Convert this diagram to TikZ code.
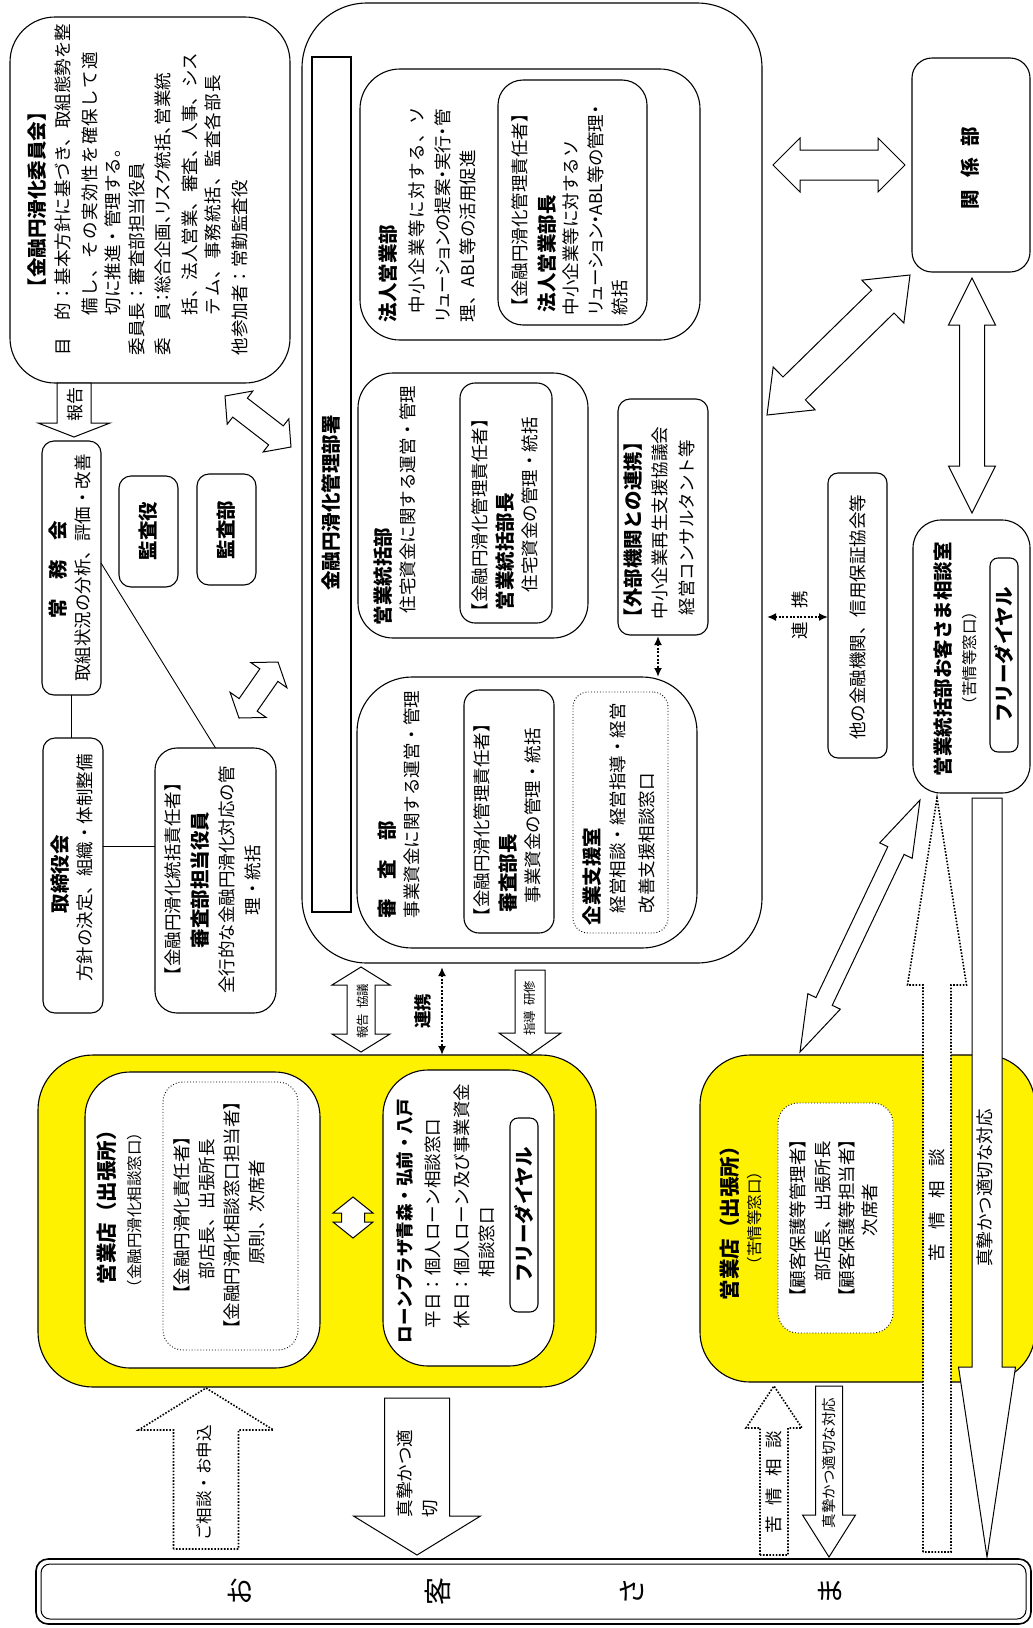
\documentclass[tikz,border=0pt]{standalone}
\usepackage{fontspec}
\setmainfont{Noto Sans CJK JP}
\usetikzlibrary{calc,arrows.meta}
\tikzset{
  bxs/.style={draw,line width=1.1pt,inner sep=0pt,outer sep=0pt},
  dotbx/.style={draw,line width=0.9pt,dotted,inner sep=0pt,outer sep=0pt},
  txt/.style={rotate=90,inner sep=0pt,outer sep=0pt,font=\fontsize{17.5}{21}\selectfont},
  bt/.style={font=\fontsize{19.5}{23}\selectfont\bfseries},
  sm/.style={font=\fontsize{15.5}{18}\selectfont},
  xs/.style={font=\fontsize{12.5}{15}\selectfont},
  barrow/.style={draw,line width=1pt,fill=white,line join=miter},
  dbarrow/.style={draw,line width=1.6pt,dash pattern=on 1.6pt off 1.6pt,fill=white},
  dotlink/.style={line width=2pt,dash pattern=on 2pt off 1.6pt,{Latex[length=9pt,width=8pt]}-{Latex[length=9pt,width=8pt]}},
  conn/.style={line width=0.9pt},
}
\newcommand{\pal}{\addfontfeature{RawFeature=+palt}}
\newcommand{\lsp}[1]{\addfontfeature{LetterSpace=#1}}
\newcommand{\bx}[6][]{\node[bxs,#1,anchor=north west,minimum width={#5-(#3)},minimum height={#6-(#4)}] (#2) at (#3,#4) {};}
\newcommand{\vtl}[5][]{\node[txt,anchor=west,#1] (#2) at (#3,#4) {#5};}
\newcommand{\vtc}[5][]{\node[txt,anchor=center,#1] (#2) at (#3,#4) {#5};}
\newcommand{\dbar}[6][]{%
  \coordinate (da) at ($(#2)!#6pt!(#3)$);
  \coordinate (db) at ($(#3)!#6pt!(#2)$);
  \draw[barrow,#1] (#2) -- ($(da)!#5pt!90:(#3)$) -- ($(da)!#4pt!90:(#3)$)
    -- ($(db)!#4pt!-90:(#2)$) -- ($(db)!#5pt!-90:(#2)$) -- (#3)
    -- ($(db)!#5pt!90:(#2)$) -- ($(db)!#4pt!90:(#2)$)
    -- ($(da)!#4pt!-90:(#3)$) -- ($(da)!#5pt!-90:(#3)$) -- cycle;}
\newcommand{\sar}[6][]{%
  \coordinate (hb) at ($(#3)!#6pt!(#2)$);
  \draw[barrow,#1] ($(#2)!#4pt!90:(#3)$) -- ($(hb)!#4pt!-90:(#2)$) -- ($(hb)!#5pt!-90:(#2)$)
    -- (#3) -- ($(hb)!#5pt!90:(#2)$) -- ($(hb)!#4pt!90:(#2)$) -- ($(#2)!#4pt!-90:(#3)$) -- cycle;}
\begin{document}
\begin{tikzpicture}[x=1pt,y=-1pt]
\useasboundingbox (0,0) rectangle (1033,1628);
% ---------------- committee
\bx[rounded corners=45pt]{iinkai}{10}{17}{290}{383}
\vtl[bt]{i1}{37}{297}{【金融円滑化委員会】}
\vtl{i2}{63}{355}{目　的：基本方針に基づき、取組態勢を整}
\vtl{i3}{90}{315}{\lsp{8}備し、その実効性を確保して適}
\vtl{i4}{113}{315}{切に推進・管理する。}
\vtl{i5}{137}{355}{委員長：審査部担当役員}
\vtl{i6}{163}{355}{\pal 委　員：総合企画、リスク統括、営業統}
\vtl{i7}{190}{315}{括、法人営業、審査、人事、シス}
\vtl{i8}{213}{315}{\lsp{6}テム、事務統括、監査各部長}
\vtl{i9}{240}{355}{他参加者：常勤監査役}
% ---------------- left column
\bx[rounded corners=12pt]{jomu}{42}{441}{101}{695}
\vtc[bt]{j1}{58}{570}{常　務　会}
\vtc{j2}{83}{568}{取組状況の分析、評価・改善}
\bx[rounded corners=12pt]{kansayaku}{119}{476}{178}{587}
\vtc[bt]{k1}{148}{531}{監査役}
\bx[rounded corners=12pt]{kansabu}{197}{474}{256}{585}
\vtc[bt]{k2}{226}{530}{監査部}
\bx[rounded corners=12pt]{tori}{43}{738}{103}{1013}
\vtc[bt]{t1}{60}{874}{取締役会}
\vtc{t2}{85}{868}{方針の決定、組織・体制整備}
\bx[rounded corners=22pt]{yakuin}{155}{748}{276}{1013}
\vtc{y1}{173}{879}{【金融円滑化統括責任者】}
\vtc[bt]{y2}{200}{880}{審査部担当役員}
\vtc{y3}{227}{880}{全行的な金融円滑化対応の管}
\vtc{y4}{253}{880}{理・統括}
\draw[conn] (jomu.south) -- (jomu.south |- tori.north);
\draw[conn] (tori.east |- 0,846) -- (yakuin.west |- 0,846);
\draw[conn] (jomu.east |- 0,563) -- (yakuin.north);
% ---------------- central
\bx[rounded corners=65pt]{kanri}{302}{3}{762}{963}
\bx{bar}{312}{57}{351}{912}
\vtc[bt]{bart}{331}{503}{金融円滑化管理部署}
\bx[rounded corners=40pt]{hojin}{360}{69}{700}{340}
\bx[rounded corners=25pt]{hojinc}{498}{80}{647}{325}
\vtl[bt]{h1}{388}{322}{法人営業部}
\vtl{h2}{417}{313}{\lsp{8}中小企業等に対する、ソ}
\vtl{h3}{443}{322}{\pal リューションの提案・実行・管}
\vtl{h4}{468}{322}{理、ABL等の活用促進}
\vtl{h5}{520}{315}{【金融円滑化管理責任者】}
\vtl[bt]{h6}{547}{312}{法人営業部長}
\vtl{h7}{571}{315}{中小企業等に対するソ}
\vtl{h8}{596}{315}{\pal リューション・ABL等の管理・}
\vtl{h9}{620}{315}{統括}
\bx[rounded corners=35pt]{eigyo}{358}{373}{588}{638}
\bx[rounded corners=15pt]{eigyoc}{460}{383}{552}{623}
\vtl[bt]{e1}{383}{625}{営業統括部}
\vtl{e2}{408}{613}{住宅資金に関する運営・管理}
\vtl{e3}{480}{620}{【金融円滑化管理責任者】}
\vtl[bt]{e4}{505}{610}{営業統括部長}
\vtl{e5}{530}{592}{住宅資金の管理・統括}
\bx[rounded corners=55pt]{shinsa}{357}{677}{697}{948}
\bx[rounded corners=15pt]{shinsac}{464}{690}{554}{933}
\bx[dotbx,rounded corners=15pt]{kigyo}{573}{692}{668}{933}
\vtl[bt]{s1}{387}{918}{審　査　部}
\vtl{s2}{412}{918}{事業資金に関する運営・管理}
\vtl{s3}{482}{925}{【金融円滑化管理責任者】}
\vtl[bt]{s4}{508}{912}{審査部長}
\vtl{s5}{533}{903}{事業資金の管理・統括}
\vtl[bt]{s6}{592}{925}{企業支援室}
\vtl{s7}{618}{913}{経営相談・経営指導・経営}
\vtl{s8}{647}{913}{改善支援相談窓口}
\bx[rounded corners=12pt]{gaibu}{618}{399}{708}{635}
\vtl[bt]{g1}{633}{627}{【外部機関との連携】}
\vtl{g2}{660}{619}{中小企業再生支援協議会}
\vtl{g3}{687}{615}{経営コンサルタント等}
\draw[dotlink] (gaibu.south -| 658,0) ++(0,1) -- (shinsa.north -| 658,0);
% ---------------- right column
\bx[rounded corners=20pt]{kankei}{912}{58}{1030}{272}
\vtc[bt]{kk}{970}{168}{関\hspace{12pt}係\hspace{12pt}部}
\bx[rounded corners=10pt]{tanokinyu}{828}{473}{887}{758}
\vtc{tk}{858}{617}{他の金融機関、信用保証協会等}
\bx[rounded corners=28pt]{sodan}{913}{520}{1030}{793}
\vtc[bt]{so1}{943}{659}{営業統括部お客さま相談室}
\vtc[sm]{so2}{970}{658}{（苦情等窓口）}
\bx[rounded corners=8pt]{free1}{990}{558}{1018}{752}
\vtc[bt]{fr1}{1004}{655}{フリーダイヤル}
\draw[dotlink] (kanri.east |- 0,617) ++(5,0) -- (tanokinyu.west |- 0,617);
\vtc{rk}{800}{615}{連\hspace{14pt}携}
% block arrows around the central unit
\coordinate (hA) at (773,165); \coordinate (hB) at (905,165);
\dbar{hA}{hB}{15}{27}{27}
\coordinate (gA) at (767,415); \coordinate (gB) at (910,275);
\dbar{gA}{gB}{16}{30}{38}
\coordinate (vA) at (972,278); \coordinate (vB) at (972,513);
\dbar{vA}{vB}{12.5}{23.5}{47}
\coordinate (c1A) at (225,396); \coordinate (c1B) at (291,447);
\dbar{c1A}{c1B}{12}{21}{19}
\coordinate (c2A) at (239,718); \coordinate (c2B) at (278,662);
\dbar{c2A}{c2B}{11}{22}{16}
\coordinate (rpA) at (74,383); \coordinate (rpB) at (74,437);
\sar{rpA}{rpB}{17}{36}{14}
\vtc[font=\fontsize{17}{20}\selectfont]{l1}{75}{404}{報告}
% ---------------- yellow box 1
\bx[fill=yellow,rounded corners=55pt]{ten1}{38}{1055}{596}{1387}
\bx[fill=white,rounded corners=45pt]{ten1a}{85}{1072}{320}{1368}
\bx[dotbx,rounded corners=20pt]{ten1d}{163}{1082}{298}{1350}
\vtc[font=\fontsize{20.5}{24}\selectfont\bfseries]{n1}{107}{1202}{営業店（出張所）}
\vtc[sm]{n2}{135}{1210}{（金融円滑化相談窓口）}
\vtc{n3}{182}{1215}{【金融円滑化責任者】}
\vtc{n4}{207}{1209}{部店長、出張所長}
\vtc{n5}{232}{1215}{【金融円滑化相談窓口担当者】}
\vtc{n6}{257}{1212}{原則、次席者}
\bx[fill=white,rounded corners=45pt]{loan}{383}{1070}{554}{1366}
\vtl[font=\fontsize{17.5}{21}\selectfont\bfseries]{p1}{405}{1343}{ローンプラザ青森・弘前・八戸}
\vtl{p2}{433}{1328}{平日：個人ローン相談窓口}
\vtl{p3}{462}{1328}{休日：個人ローン及び事業資金}
\vtl{p4}{487}{1277}{相談窓口}
\bx[rounded corners=8pt]{free2}{510}{1118}{538}{1312}
\vtc[bt]{fr2}{524}{1215}{フリーダイヤル}
\coordinate (yA) at (353,1197); \coordinate (yB) at (353,1238);
\dbar{yA}{yB}{11.5}{20}{16}
% arrows between central unit and branch
\coordinate (kA) at (361,967); \coordinate (kB) at (361,1052);
\dbar{kA}{kB}{14}{29}{18}
\vtc[xs]{l2}{363}{1011}{報告\hspace{5pt}協議}
\draw[dotlink] (kanri.south -| 442,0) ++(0,4) -- (ten1.north -| 442,0);
\vtc[font=\fontsize{17.5}{21}\selectfont\bfseries]{l3}{423}{1011}{連携}
\coordinate (sA) at (530,970); \coordinate (sB) at (530,1055);
\sar{sA}{sB}{15}{31}{22}
\vtc[xs]{l4}{530}{1008}{指導\hspace{5pt}研修}
% ---------------- yellow box 2
\bx[fill=yellow,rounded corners=50pt]{ten2}{700}{1055}{1035}{1382}
\bx[dotbx,fill=white,rounded corners=20pt]{ten2d}{778}{1103}{893}{1333}
\vtc[font=\fontsize{20.5}{24}\selectfont\bfseries]{m1}{730}{1218}{営業店（出張所）}
\vtc[sm]{m2}{755}{1218}{（苦情等窓口）}
\vtc{m3}{798}{1218}{【顧客保護等管理者】}
\vtc{m4}{823}{1211}{部店長、出張所長}
\vtc{m5}{847}{1218}{【顧客保護等担当者】}
\vtc{m6}{870}{1210}{次席者}
\coordinate (dA) at (920,800); \coordinate (dB) at (800,1052);
\dbar{dA}{dB}{9}{18}{56}
% long arrows between customers and customer centre
\coordinate (lqA) at (937,1552); \coordinate (lqB) at (937,798);
\sar[dbarrow]{lqA}{lqB}{14}{29.5}{187}
\vtc{b6}{937}{1205}{苦\hspace{14pt}情\hspace{14pt}相\hspace{14pt}談}
\coordinate (ldA) at (987,798); \coordinate (ldB) at (987,1557);
\sar{ldA}{ldB}{15}{28.5}{190}
\vtc{b7}{985}{1188}{真摯かつ適切な対応}
% ---------------- customers
\bx[line width=1.6pt,rounded corners=12pt]{kyaku}{36}{1559}{1031}{1624}
\bx[line width=1pt,rounded corners=9pt]{kyakui}{41}{1564}{1026}{1619}
\vtc[font=\fontsize{28}{30}\selectfont]{ka}{240}{1591}{お}
\vtc[font=\fontsize{28}{30}\selectfont]{kb}{438}{1591}{客}
\vtc[font=\fontsize{28}{30}\selectfont]{kc}{632}{1591}{さ}
\vtc[font=\fontsize{28}{30}\selectfont]{kd}{830}{1591}{ま}
\coordinate (u1A) at (206,1549); \coordinate (u1B) at (206,1388);
\sar[dbarrow]{u1A}{u1B}{32.5}{67.5}{42}
\vtc[font=\fontsize{16.5}{20}\selectfont]{b1}{204}{1483}{ご相談・お申込}
\coordinate (u2A) at (417,1398); \coordinate (u2B) at (417,1555);
\sar{u2A}{u2B}{32.5}{63.5}{39}
\vtl{b2}{405}{1517}{真摯かつ適}
\vtl{b3}{430}{1517}{切}
\coordinate (u3A) at (774,1555); \coordinate (u3B) at (774,1386);
\sar[dbarrow]{u3A}{u3B}{14}{28}{42}
\vtc{b4}{774}{1482}{苦\hspace{11pt}情\hspace{11pt}相\hspace{11pt}談}
\coordinate (u4A) at (829,1386); \coordinate (u4B) at (829,1557);
\sar{u4A}{u4B}{13.5}{26.5}{42}
\vtc[font=\fontsize{14.5}{17}\selectfont]{b5}{829}{1463}{真摯かつ適切な対応}
\end{tikzpicture}
\end{document}
